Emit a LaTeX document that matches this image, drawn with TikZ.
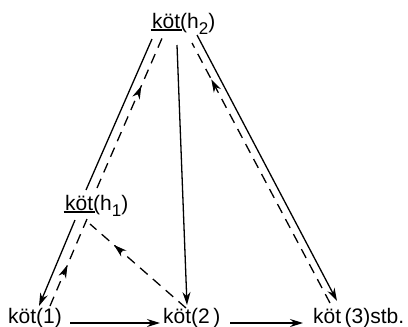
\documentclass[tikz,border=0pt]{standalone}
\usepackage{fontspec}
\setmainfont{Liberation Sans}
\usetikzlibrary{arrows.meta,decorations.markings}
\newcommand\kul[1]{\setbox0\hbox{#1}\rlap{\kern-1.5pt\rule[-3pt]{\dimexpr\wd0+3pt\relax}{2pt}}\box0}
\newcommand\ksub[1]{\raisebox{-6.5pt}{\fontsize{17}{17}\selectfont #1}}
\begin{document}
\begin{tikzpicture}[x=1pt,y=-1pt,
  lbl/.style={inner sep=0pt, anchor=base west, font=\fontsize{21}{25}\selectfont},
  conn/.style={line width=1.3pt, -{Stealth[length=13pt,width=8pt]}},
  back/.style={line width=1.3pt, dash pattern=on 10pt off 7pt, postaction=decorate,
    decoration={markings, mark=at position #1 with {\arrow[solid,line width=0.8pt]{Stealth[length=13pt,width=8pt]}}}}]
\useasboundingbox (0,0) rectangle (408,327);
\node[lbl] (h2) at (152,28) {\kul{köt}(h\ksub{2})};
\node[lbl] (h1) at (65,210) {\kul{köt}(h\ksub{1})};
\node[lbl] (k1) at (8,323) {köt(1)};
\node[lbl] (k2) at (163,323) {köt(2\,)};
\node[lbl] (k3) at (313,323) {köt\,(3)stb.};
% endpoints
\coordinate (h2a) at (152,39);  \coordinate (h1a) at (86,190);
\coordinate (h1b) at (97,188);  \coordinate (h2b) at (163,36);
\coordinate (h2c) at (177,45);  \coordinate (k2a) at (187,305);
\coordinate (h2d) at (197,35);  \coordinate (k3a) at (337,301);
\coordinate (k3b) at (330,303); \coordinate (h2e) at (192,43);
\coordinate (h1c) at (75,220);  \coordinate (k1a) at (39,306);
\coordinate (k1b) at (50,306);  \coordinate (h1d) at (87,219);
\coordinate (k2b) at (186,308); \coordinate (h1e) at (90,224);
\coordinate (k1c) at (70,323);  \coordinate (k2c) at (160,323);
\coordinate (k2d) at (230,323); \coordinate (k3c) at (303,323);
% solid
\draw[line width=1.3pt] (h2a) -- (h1a);
\draw[conn] (h2c) -- (k2a);
\draw[conn] (h2d) -- (k3a);
\draw[conn] (h1c) -- (k1a);
\draw[conn] (k1c) -- (k2c);
\draw[conn] (k2d) -- (k3c);
% dashed
\draw[back=0.67] (h1b) -- (h2b);
\draw[back=0.86] (k3b) -- (h2e);
\draw[back=0.47] (k1b) -- (h1d);
\draw[back=0.75] (k2b) -- (h1e);
\end{tikzpicture}
\end{document}
